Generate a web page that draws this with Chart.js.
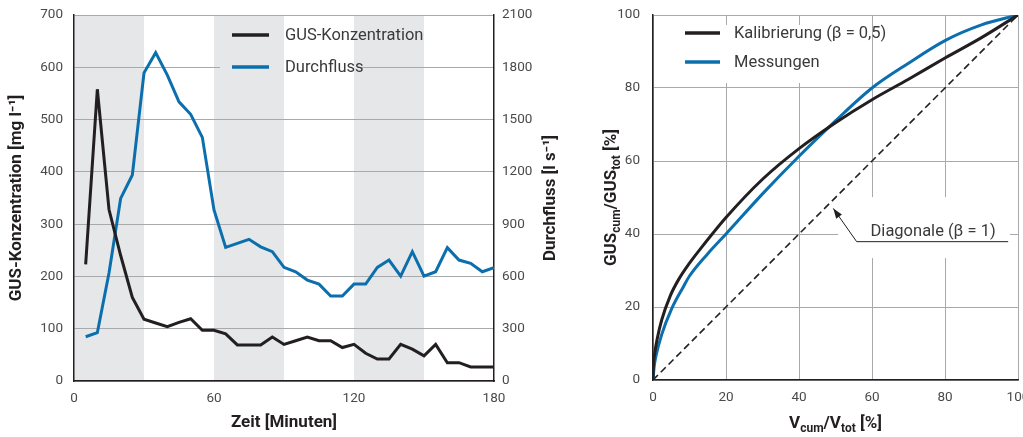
<!DOCTYPE html>
<html>
<head>
<meta charset="utf-8">
<script src="https://cdn.jsdelivr.net/npm/chart.js@4.4.0/dist/chart.umd.min.js"></script>
<style>
  html, body { margin:0; padding:0; background:#fff; }
  #wrap { position:relative; width:1023px; height:437px; overflow:hidden; }
  .panel { position:absolute; top:0; height:437px; }
  #left  { left:0;     width:565px; }
  #right { left:565px; width:458px; }
  canvas { background:#fff; }
</style>
</head>
<body>
<div id="wrap">
  <div class="panel" id="left"><canvas id="zeitChart" width="565" height="437"></canvas></div>
  <div class="panel" id="right"><canvas id="kurveChart" width="458" height="437"></canvas></div>
</div>
<script>
// ── DATA: time series (left) ───────────────────────────────
const minutes = [5,10,15,20,25,30,35,40,45,50,55,60,65,70,75,80,85,90,
                 95,100,105,110,115,120,125,130,135,140,145,150,155,160,165,170,175,180];
const gusConc = [223,558,328,240,160,118,111,104,112,119,97,97,90,69,69,69,84,70,
                 77,84,77,77,64,70,53,42,42,70,61,48,70,35,35,27,27,27];
const flow    = [254,277,620,1048,1182,1768,1884,1755,1602,1530,1398,981,767,790,813,770,742,652,
                 627,579,556,488,488,556,556,652,694,602,742,602,627,765,694,675,627,650];
const rainBands = [[0,30],[60,90],[120,150]];
const leftLegend = ['GUS-Konzentration', 'Durchfluss'];

// ── DATA: cumulative curves (right) ────────────────────────
const calVol  = [0,0.1,0.5,1.2,2.4,4.7,7,10,12.9,20,30,40,50,60,70,80,90,100];
const calGus  = [0,3.5,7.5,11.5,16.5,23,27.5,32,35.8,44.5,55,63.4,70.5,76.8,82.4,88.2,93.8,100];
const measVol = [0,0.3,0.8,2.4,5.1,8.3,10,15,20,30,40,50,60,70,80,90,100];
const measGus = [0,3.5,6.5,12.5,19.5,25.5,28.5,34.6,40,51,61.3,71,80,86.8,93,97.3,100];
const diagVol = [0,100];
const diagGus = [0,100];
const rightLegend = ['Kalibrierung (β = 0,5)', 'Messungen'];
const diagLabel = 'Diagonale (β = 1)';

// ── STYLE ──────────────────────────────────────────────────
const FONT = "Roboto, 'Liberation Sans', sans-serif";
const INK  = '#231f20';
const BLUE = '#0b6fae';
const GRID = '#a7a9ac';
const BAND = '#e6e7e8';
const TICK = '#4a4a4c';
const TEXT = '#3a3a3a';

Chart.defaults.font.family = FONT;
Chart.defaults.color = TICK;
Chart.defaults.animation = false;

const tickFont  = { size:13.5 };
const titleFont = { size:17, weight:'bold' };
const plain = v => String(v);

function pts(xs, ys) { return xs.map((x, i) => ({ x, y: ys[i] })); }

function drawLegend(ctx, labels, colors, x, y0, gap, lineLen, textX) {
  ctx.save();
  ctx.font = '16.5px ' + FONT;
  ctx.textBaseline = 'middle';
  labels.forEach((lab, i) => {
    const y = y0 + i * gap;
    ctx.strokeStyle = colors[i];
    ctx.lineWidth = 3.5;
    ctx.beginPath(); ctx.moveTo(x, y); ctx.lineTo(x + lineLen, y); ctx.stroke();
    ctx.fillStyle = TEXT;
    ctx.fillText(lab, textX, y + 1);
  });
  ctx.restore();
}

// text with subscripts, centred on x, baseline y
function drawSubText(ctx, parts, x, y) {
  const big = 'bold 17px ' + FONT, small = 'bold 12px ' + FONT;
  let w = 0;
  parts.forEach(p => { ctx.font = p.sub ? small : big; w += ctx.measureText(p.t).width; });
  let cx = x - w / 2;
  ctx.textBaseline = 'alphabetic';
  ctx.textAlign = 'left';
  parts.forEach(p => {
    ctx.font = p.sub ? small : big;
    ctx.fillText(p.t, cx, p.sub ? y + 4 : y);
    cx += ctx.measureText(p.t).width;
  });
}

// ── LEFT: concentration + flow over time ──────────────────
const bandPlugin = {
  id: 'bands',
  beforeDraw(chart) {
    const { ctx, chartArea: a, scales: { x } } = chart;
    ctx.save();
    ctx.fillStyle = BAND;
    rainBands.forEach(([s, e]) => {
      const x0 = x.getPixelForValue(s), x1 = x.getPixelForValue(e);
      ctx.fillRect(x0, a.top, x1 - x0, a.bottom - a.top);
    });
    ctx.restore();
  },
  beforeDatasetsDraw(chart) {
    // white patch behind the legend hides grid lines, bands stay visible
    const { ctx, chartArea: a, scales: { x } } = chart;
    const box = { l: 220, t: a.top + 2, w: 140, h: 72 };
    ctx.save();
    ctx.beginPath(); ctx.rect(box.l, box.t, box.w, box.h); ctx.clip();
    ctx.fillStyle = '#fff';
    ctx.fillRect(box.l, box.t, box.w, box.h);
    ctx.fillStyle = BAND;
    rainBands.forEach(([s, e]) => {
      const x0 = x.getPixelForValue(s), x1 = x.getPixelForValue(e);
      ctx.fillRect(x0, a.top, x1 - x0, a.bottom - a.top);
    });
    ctx.restore();
  },
  afterDatasetsDraw(chart) {
    drawLegend(chart.ctx, leftLegend, [INK, BLUE], 232, 35, 32, 37, 285);
  },
  afterDraw(chart) {
    // right axis title reads bottom-to-top like the left one
    const { ctx, chartArea: a } = chart;
    ctx.save();
    ctx.fillStyle = INK;
    ctx.translate(555, (a.top + a.bottom) / 2);
    ctx.rotate(-Math.PI / 2);
    drawSubText(ctx, [{ t: 'Durchfluss [l s⁻¹]' }], 0, 0);
    ctx.restore();
  }
};

new Chart(document.getElementById('zeitChart'), {
  type: 'line',
  data: {
    datasets: [
      { label: leftLegend[0], data: pts(minutes, gusConc), yAxisID: 'y',
        borderColor: INK, borderWidth: 3, pointRadius: 0, tension: 0 },
      { label: leftLegend[1], data: pts(minutes, flow), yAxisID: 'y1',
        borderColor: BLUE, borderWidth: 3, pointRadius: 0, tension: 0 }
    ]
  },
  options: {
    responsive: false,
    layout: { padding: { top: 15, left: 0, right: 0, bottom: 0 } },
    plugins: { legend: { display: false }, tooltip: { enabled: false } },
    scales: {
      x: {
        type: 'linear', min: 0, max: 180,
        ticks: { stepSize: 60, padding: 10, font: tickFont, color: TICK, callback: plain },
        grid: { display: false, drawTicks: false },
        border: { color: INK, width: 1.5 },
        title: { display: true, text: 'Zeit [Minuten]', color: INK, font: titleFont, padding: { top: 0, bottom: 4 } },
        afterFit: s => { s.height = 56; s.paddingLeft = 0; s.paddingRight = 0; }
      },
      y: {
        position: 'left', min: 0, max: 700,
        ticks: { stepSize: 100, padding: 11, font: tickFont, color: TICK, callback: plain },
        grid: { color: GRID, lineWidth: 1, drawTicks: false },
        border: { color: INK, width: 1.5 },
        title: { display: true, text: 'GUS-Konzentration [mg l⁻¹]', color: INK, font: titleFont, padding: { top: 7, bottom: 0 } },
        afterFit: s => { s.width = 74; s.paddingTop = 0; s.paddingBottom = 0; }
      },
      y1: {
        position: 'right', min: 0, max: 2100,
        ticks: { stepSize: 300, padding: 8, font: tickFont, color: TICK, callback: plain },
        grid: { display: false, drawTicks: false },
        border: { color: INK, width: 1.5 },
        afterFit: s => { s.width = 71; s.paddingTop = 0; s.paddingBottom = 0; }
      }
    }
  },
  plugins: [bandPlugin]
});

// ── RIGHT: cumulative load vs. cumulative volume ──────────
const curvePlugin = {
  id: 'curveDeco',
  beforeDatasetsDraw(chart) {
    const { ctx, scales: { x, y } } = chart;
    ctx.save();
    ctx.fillStyle = '#fff';
    // legend patch
    ctx.fillRect(115, 25, 188, 58);
    // label patch for the diagonal note
    const l = x.getPixelForValue(50.7), r = x.getPixelForValue(97.8);
    const t = y.getPixelForValue(50.1), b = y.getPixelForValue(33.4);
    ctx.fillRect(l, t, r - l, b - t);
    ctx.restore();
  },
  afterDatasetsDraw(chart) {
    const { ctx, scales: { x, y } } = chart;
    drawLegend(ctx, rightLegend, [INK, BLUE], 120, 33, 29, 35, 169);

    // leader line to the diagonal
    const tip   = [x.getPixelForValue(49.4), y.getPixelForValue(47.0)];
    const elbow = [x.getPixelForValue(55.8), y.getPixelForValue(37.9)];
    const end   = [x.getPixelForValue(97.3), y.getPixelForValue(37.9)];
    ctx.save();
    ctx.strokeStyle = INK; ctx.fillStyle = INK; ctx.lineWidth = 1;
    ctx.beginPath(); ctx.moveTo(end[0], end[1]); ctx.lineTo(elbow[0], elbow[1]); ctx.lineTo(tip[0], tip[1]); ctx.stroke();
    const ang = Math.atan2(tip[1] - elbow[1], tip[0] - elbow[0]);
    const len = 10, half = 3.5;
    ctx.beginPath();
    ctx.moveTo(tip[0], tip[1]);
    ctx.lineTo(tip[0] - len * Math.cos(ang) + half * Math.sin(ang), tip[1] - len * Math.sin(ang) - half * Math.cos(ang));
    ctx.lineTo(tip[0] - len * Math.cos(ang) - half * Math.sin(ang), tip[1] - len * Math.sin(ang) + half * Math.cos(ang));
    ctx.closePath(); ctx.fill();
    ctx.font = '16.5px ' + FONT;
    ctx.fillStyle = TEXT;
    ctx.textBaseline = 'alphabetic';
    ctx.fillText(diagLabel, x.getPixelForValue(59.6), y.getPixelForValue(39.4));
    ctx.restore();
  },
  afterDraw(chart) {
    const { ctx, chartArea: a } = chart;
    ctx.save();
    ctx.fillStyle = INK;
    drawSubText(ctx, [{ t: 'V' }, { t: 'cum', sub: true }, { t: '/V' }, { t: 'tot', sub: true }, { t: ' [%]' }],
      (a.left + a.right) / 2, 428);
    ctx.translate(51, (a.top + a.bottom) / 2);
    ctx.rotate(-Math.PI / 2);
    drawSubText(ctx, [{ t: 'GUS' }, { t: 'cum', sub: true }, { t: '/GUS' }, { t: 'tot', sub: true }, { t: ' [%]' }], 0, 0);
    ctx.restore();
  }
};

new Chart(document.getElementById('kurveChart'), {
  type: 'line',
  data: {
    datasets: [
      { label: rightLegend[0], data: pts(calVol, calGus), borderColor: INK, borderWidth: 3,
        pointRadius: 0, cubicInterpolationMode: 'monotone' },
      { label: rightLegend[1], data: pts(measVol, measGus), borderColor: BLUE, borderWidth: 3,
        pointRadius: 0, cubicInterpolationMode: 'monotone' },
      { label: diagLabel, data: pts(diagVol, diagGus), borderColor: INK, borderWidth: 1.6,
        borderDash: [7, 4], pointRadius: 0 }
    ]
  },
  options: {
    responsive: false,
    layout: { padding: { top: 15, right: 5, left: 0, bottom: 0 } },
    plugins: { legend: { display: false }, tooltip: { enabled: false } },
    scales: {
      x: {
        type: 'linear', min: 0, max: 100,
        ticks: { stepSize: 20, padding: 10, font: tickFont, color: TICK, callback: plain },
        grid: { color: GRID, drawTicks: false },
        border: { color: INK, width: 1.5 },
        afterFit: s => { s.height = 57; s.paddingLeft = 0; s.paddingRight = 0; }
      },
      y: {
        min: 0, max: 100,
        ticks: { stepSize: 20, padding: 13, font: tickFont, color: TICK, callback: plain },
        grid: { color: GRID, drawTicks: false },
        border: { color: INK, width: 1.5 },
        afterFit: s => { s.width = 88; s.paddingTop = 0; s.paddingBottom = 0; }
      }
    }
  },
  plugins: [curvePlugin]
});
</script>
</body>
</html>
